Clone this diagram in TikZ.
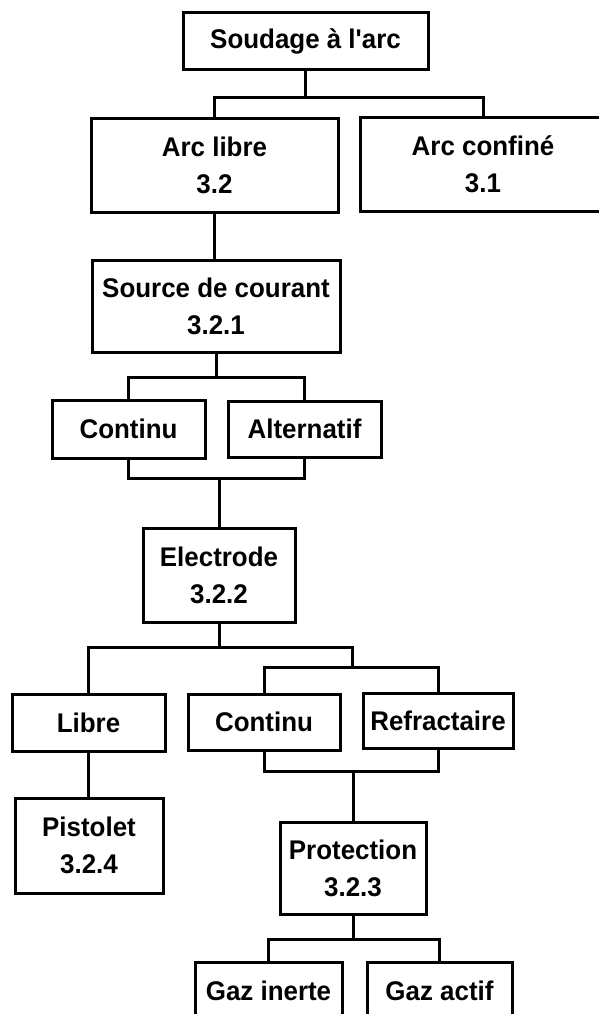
\documentclass[tikz,border=0pt]{standalone}
\usepackage{fontspec}
\setmainfont{Liberation Sans}[FakeStretch=0.96,Ligatures=TeXOff]
\begin{document}
\begin{tikzpicture}[x=1pt,y=-1pt,
  box/.style={draw, line width=3pt, rectangle, inner sep=0pt, align=center,
    font=\fontsize{27}{37}\selectfont\bfseries},
  link/.style={line width=3pt}]
\useasboundingbox (0,0) rectangle (599,1014);
\clip (0,0) rectangle (599,1014);
\fill[white] (0,0) rectangle (599,1014);
% nodes
\node[box, minimum width=245, minimum height=57] (top) at (305.5,41.5) {Soudage à l'arc};
\node[box, minimum width=247, minimum height=93] (arclibre) at (214.5,165.5) {Arc libre\\3.2};
\node[box, minimum width=246, minimum height=93] (arcconf) at (483,164.5) {Arc confiné\\3.1};
\node[box, minimum width=248, minimum height=92] (source) at (216,306) {Source de courant\\3.2.1};
\node[box, minimum width=153, minimum height=58] (continu1) at (128.5,429) {Continu};
\node[box, minimum width=153, minimum height=56] (altern) at (304.5,429) {Alternatif};
\node[box, minimum width=152, minimum height=94] (electrode) at (219,575) {Electrode\\3.2.2};
\node[box, minimum width=153, minimum height=57] (libre) at (88.5,722.5) {Libre};
\node[box, minimum width=152, minimum height=56] (continu2) at (264,722) {Continu};
\node[box, minimum width=150, minimum height=55] (refract) at (438,720.5) {Refractaire};
\node[box, minimum width=148, minimum height=95] (pistolet) at (89,845.5) {Pistolet\\3.2.4};
\node[box, minimum width=146, minimum height=92] (protection) at (353,868) {Protection\\3.2.3};
\node[box, minimum width=147, minimum height=57] (gazinerte) at (268.5,990.5) {Gaz inerte};
\node[box, minimum width=145, minimum height=57] (gazactif) at (439.5,990.5) {Gaz actif};
% connectors
\draw[link] (top.south) -- ++(0,26) coordinate (t1);
\draw[link] (arclibre.north) |- (arcconf.north |- t1) -- (arcconf.north);
\draw[link] (arclibre.south) -- (arclibre.south |- source.north);
\draw[link] (source.south) -- ++(0,24) coordinate (s1);
\draw[link] (continu1.north) |- (altern.north |- s1) -- (altern.north);
\draw[link] (electrode.north) -- ++(0,-48) coordinate (e0);
\draw[link] (continu1.south) |- (altern.south |- e0) -- (altern.south);
\draw[link] (electrode.south) -- ++(0,24) coordinate (e1);
\coordinate (j2) at (352,667);
\draw[link] (libre.north) |- (j2 |- e1) -- (j2);
\draw[link] (continu2.north) |- (refract.north |- j2) -- (refract.north);
\draw[link] (libre.south) -- (libre.south |- pistolet.north);
\draw[link] (protection.north) -- ++(0,-49) coordinate (p0);
\draw[link] (continu2.south) |- (refract.south |- p0) -- (refract.south);
\draw[link] (protection.south) -- ++(0,24) coordinate (p1);
\draw[link] (gazinerte.north) |- (gazactif.north |- p1) -- (gazactif.north);
\end{tikzpicture}
\end{document}
